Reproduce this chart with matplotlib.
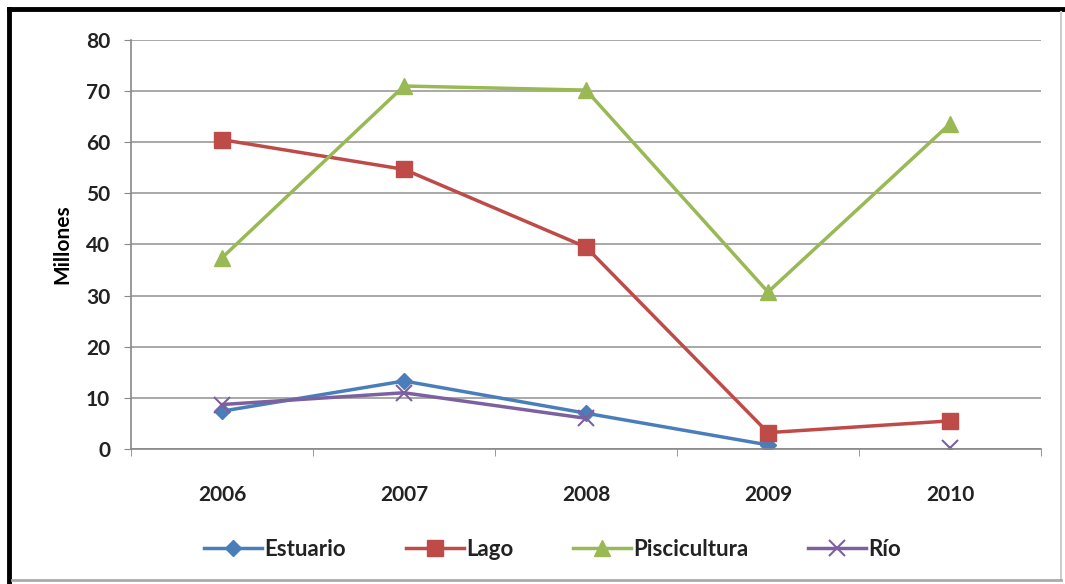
import numpy as np
import matplotlib.pyplot as plt
from matplotlib.lines import Line2D

years = ['2006', '2007', '2008', '2009', '2010']
estuario = [7.4, 13.3, 7.0, 0.8, np.nan]
lago = [60.5, 54.7, 39.5, 3.2, 5.5]
piscicultura = [37.4, 71.0, 70.2, 30.7, 63.6]
rio = [8.7, 11.0, 6.0, np.nan, 0.2]

plt.rcParams['font.family'] = ['Lato', 'DejaVu Sans']

fig = plt.figure(figsize=(10.65, 5.84), dpi=100)
ax = fig.add_axes([131/1065, 1 - 449/584, 910/1065, 409/584])

x = np.arange(len(years))
ax.plot(x, estuario, '-D', color='#4A7EBB', lw=2.5, ms=8, label='Estuario')
ax.plot(x, lago, '-s', color='#BE4B48', lw=2.5, ms=11, label='Lago')
ax.plot(x, piscicultura, '-^', color='#98B954', lw=2.5, ms=11, label='Piscicultura')
ax.plot(x, rio, '-x', color='#7D60A0', lw=2.5, ms=11, mew=1.5, label='Río')

ax.set_xlim(-0.5, 4.5)
ax.set_ylim(0, 80)
ax.set_yticks(range(0, 81, 10))
ax.set_xticks(x)
ax.set_xticklabels(years)
ax.set_xticks(np.arange(-0.5, 5, 1), minor=True)
ax.tick_params(axis='x', which='major', length=0, pad=26, labelsize=15)
ax.tick_params(axis='x', which='minor', length=5, color='#888888')
ax.tick_params(axis='y', length=5, color='#888888', labelsize=15, pad=10)
for lab in ax.get_xticklabels() + ax.get_yticklabels():
    lab.set_fontweight('bold')
    lab.set_color('#222222')

ax.grid(axis='y', color='#999999', lw=1.2)
ax.set_axisbelow(True)
for s in ['top', 'right']:
    ax.spines[s].set_visible(False)
ax.spines['left'].set_color('#888888')
ax.spines['bottom'].set_color('#888888')
ax.spines['left'].set_linewidth(1.2)
ax.spines['bottom'].set_linewidth(1.2)

ax.set_ylabel('Millones', fontsize=15, fontweight='bold', labelpad=10)

leg = fig.legend(loc='center', bbox_to_anchor=(0.519, 1 - 549/584), ncol=4,
                 frameon=False, fontsize=16, handlelength=2.6, handletextpad=0.1,
                 columnspacing=2.7)
for t in leg.get_texts():
    t.set_fontweight('bold')
    t.set_color('#222222')

# outer frame
fig.add_artist(Line2D([9/1065, 9/1065], [0, 1 - 9/584], transform=fig.transFigure, color='black', lw=3.5))
fig.add_artist(Line2D([9/1065, 1], [1 - 9/584, 1 - 9/584], transform=fig.transFigure, color='black', lw=3.5))
fig.add_artist(Line2D([1061/1065, 1061/1065], [4/584, 1 - 12/584], transform=fig.transFigure, color='#cccccc', lw=1.5))
fig.add_artist(Line2D([12/1065, 1061/1065], [4/584, 4/584], transform=fig.transFigure, color='#aaaaaa', lw=2))

fig.savefig('out.png', dpi=100)
